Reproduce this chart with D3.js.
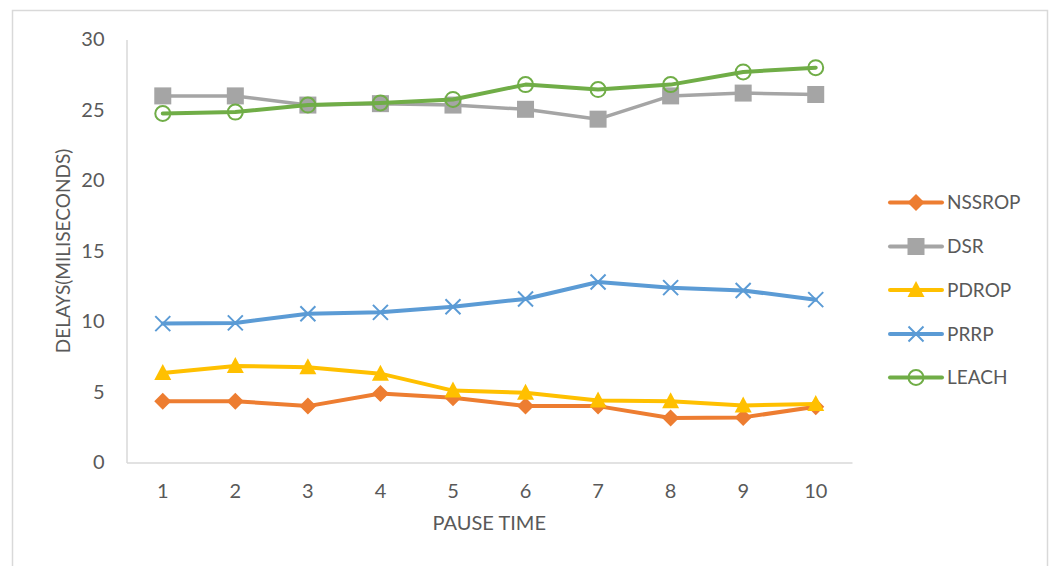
<!DOCTYPE html>
<html><head><meta charset="utf-8">
<script src="https://cdn.jsdelivr.net/npm/d3@7"></script>
<style>
html,body{margin:0;padding:0;background:#fff;}
text{font-family:Lato,"Open Sans",sans-serif;fill:#595959;}
</style></head>
<body><svg id="c" width="1052" height="566"></svg>
<script>
const categories = ["1","2","3","4","5","6","7","8","9","10"];
const seriesNames = ["NSSROP","DSR","PDROP","PRRP","LEACH"];
const nssrop = [4.35, 4.35, 4.0, 4.9, 4.6, 4.0, 4.0, 3.15, 3.2, 3.95];
const dsr    = [26.0, 26.0, 25.35, 25.45, 25.35, 25.05, 24.35, 26.0, 26.2, 26.1];
const pdrop  = [6.35, 6.85, 6.75, 6.3, 5.1, 4.95, 4.4, 4.35, 4.05, 4.15];
const prrp   = [9.85, 9.9, 10.55, 10.65, 11.05, 11.6, 12.8, 12.4, 12.2, 11.55];
const leach  = [24.75, 24.85, 25.35, 25.5, 25.75, 26.8, 26.45, 26.8, 27.7, 28.0];
const yTicks = [0, 5, 10, 15, 20, 25, 30];
const xTitle = "PAUSE TIME";
const yTitle = "DELAYS(MILISECONDS)";

const colors = ["#ED7D31","#A5A5A5","#FFC000","#5B9BD5","#70AD47"];
const markers = ["diamond","square","triangle","cross","circle"];
const data = [nssrop, dsr, pdrop, prrp, leach];

const svg = d3.select("#c");
// outer frame
svg.append("rect").attr("x",12.5).attr("y",10.5).attr("width",1035).attr("height",570)
  .attr("fill","none").attr("stroke","#D9D9D9").attr("stroke-width",1.5);

const L = 126.5, R = 852, T = 39.5, B = 462.5;
const x = d3.scaleBand().domain(categories).range([L, R]);
const y = d3.scaleLinear().domain([0, 30]).range([B, T]);

// axes
const yAxis = svg.append("g").attr("transform",`translate(${L},0)`)
  .call(d3.axisLeft(y).tickValues(yTicks).tickSize(0).tickPadding(22));
yAxis.select(".domain").attr("stroke","#D9D9D9").attr("stroke-width",1.5);
yAxis.selectAll("text").style("font-size","20px").attr("fill","#595959");

const xAxis = svg.append("g").attr("transform",`translate(0,${B})`)
  .call(d3.axisBottom(x).tickSize(0));
xAxis.select(".domain").attr("stroke","#D9D9D9").attr("stroke-width",1.5);
xAxis.selectAll("text").style("font-size","20px").attr("fill","#595959")
  .attr("y", 28.5).attr("dy","0.35em");

svg.append("text").attr("x",(L+R)/2).attr("y",523).attr("dy","0.35em").attr("text-anchor","middle")
  .style("font-size","20px").text(xTitle);
svg.append("text").attr("transform",`translate(70,${(T+B)/2}) rotate(-90)`)
  .attr("text-anchor","middle").style("font-size","19px").text(yTitle);

function drawMarker(g, type, color, cx, cy){
  if(type==="diamond"){
    g.append("path").attr("d",`M${cx},${cy-8.5}L${cx+8.5},${cy}L${cx},${cy+8.5}L${cx-8.5},${cy}Z`).attr("fill",color);
  } else if(type==="square"){
    g.append("rect").attr("x",cx-8.5).attr("y",cy-8.5).attr("width",17).attr("height",17).attr("fill",color);
  } else if(type==="triangle"){
    g.append("path").attr("d",`M${cx},${cy-9}L${cx+8.5},${cy+7}L${cx-8.5},${cy+7}Z`).attr("fill",color);
  } else if(type==="cross"){
    g.append("path").attr("d",`M${cx-7.5},${cy-7.5}L${cx+7.5},${cy+7.5}M${cx-7.5},${cy+7.5}L${cx+7.5},${cy-7.5}`)
      .attr("stroke",color).attr("stroke-width",2).attr("fill","none");
  } else if(type==="circle"){
    g.append("circle").attr("cx",cx).attr("cy",cy).attr("r",7.5).attr("fill","none")
      .attr("stroke",color).attr("stroke-width",2);
  }
}

const line = d3.line().x((d,i)=>x(categories[i])+x.bandwidth()/2).y(d=>y(d));
data.forEach((vals, si)=>{
  const g = svg.append("g");
  g.append("path").datum(vals).attr("d",line).attr("fill","none")
    .attr("stroke",colors[si]).attr("stroke-width",si===1?3.5:4).attr("stroke-linejoin","round").attr("stroke-linecap","round");
  vals.forEach((v,i)=>drawMarker(g, markers[si], colors[si], x(categories[i])+x.bandwidth()/2, y(v)));
});

// legend
const legY = [202.5, 246.5, 290, 334, 377.5];
seriesNames.forEach((n, si)=>{
  const g = svg.append("g");
  const ly = legY[si];
  g.append("line").attr("x1",890).attr("x2",942).attr("y1",ly).attr("y2",ly)
    .attr("stroke",colors[si]).attr("stroke-width",4).attr("stroke-linecap","round");
  drawMarker(g, markers[si], colors[si], 916, ly);
  g.append("text").attr("x",947).attr("y",ly).attr("dy","0.35em").style("font-size","19px").text(n);
});
</script></body></html>
